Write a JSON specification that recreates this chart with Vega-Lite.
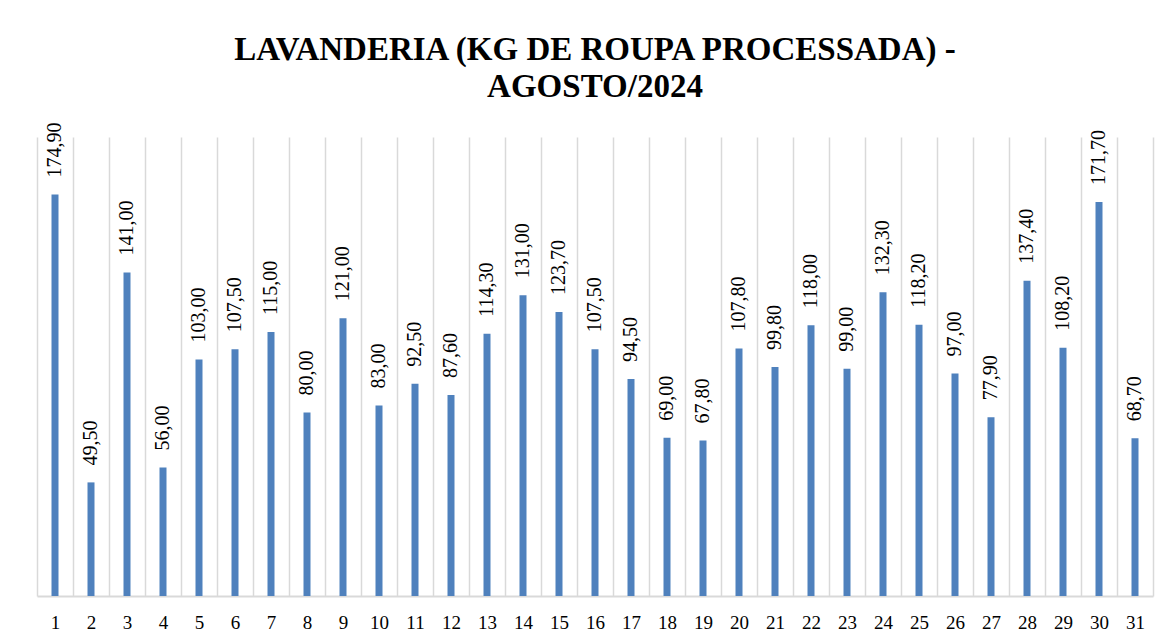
{
  "$schema": "https://vega.github.io/schema/vega-lite/v6.json",
  "width": 1116,
  "height": 459,
  "autosize": {"type": "none"},
  "padding": {"left": 37, "top": 137, "right": 18, "bottom": 46},
  "background": "white",
  "config": {
    "view": {"stroke": null},
    "locale": {"number": {"decimal": ",", "thousands": ".", "grouping": [3], "currency": ["R$", ""]}}
  },
  "title": {
    "text": ["LAVANDERIA (KG DE ROUPA PROCESSADA) -", "AGOSTO/2024"],
    "font": "Times New Roman, Liberation Serif, DejaVu Serif, serif",
    "fontSize": 33,
    "fontWeight": "bold",
    "color": "#000000",
    "lineHeight": 37,
    "anchor": "middle",
    "frame": "group",
    "offset": 19
  },
  "data": {
    "values": [
      {"dia": 1, "kg": 174.9}, {"dia": 2, "kg": 49.5}, {"dia": 3, "kg": 141.0}, {"dia": 4, "kg": 56.0},
      {"dia": 5, "kg": 103.0}, {"dia": 6, "kg": 107.5}, {"dia": 7, "kg": 115.0}, {"dia": 8, "kg": 80.0},
      {"dia": 9, "kg": 121.0}, {"dia": 10, "kg": 83.0}, {"dia": 11, "kg": 92.5}, {"dia": 12, "kg": 87.6},
      {"dia": 13, "kg": 114.3}, {"dia": 14, "kg": 131.0}, {"dia": 15, "kg": 123.7}, {"dia": 16, "kg": 107.5},
      {"dia": 17, "kg": 94.5}, {"dia": 18, "kg": 69.0}, {"dia": 19, "kg": 67.8}, {"dia": 20, "kg": 107.8},
      {"dia": 21, "kg": 99.8}, {"dia": 22, "kg": 118.0}, {"dia": 23, "kg": 99.0}, {"dia": 24, "kg": 132.3},
      {"dia": 25, "kg": 118.2}, {"dia": 26, "kg": 97.0}, {"dia": 27, "kg": 77.9}, {"dia": 28, "kg": 137.4},
      {"dia": 29, "kg": 108.2}, {"dia": 30, "kg": 171.7}, {"dia": 31, "kg": 68.7}
    ]
  },
  "encoding": {
    "x": {
      "field": "dia",
      "type": "ordinal",
      "sort": null,
      "scale": {"paddingInner": 0, "paddingOuter": 0},
      "axis": {
        "title": null,
        "labelAngle": 0,
        "labelFont": "Times New Roman, Liberation Serif, DejaVu Serif, serif",
        "labelFontSize": 19,
        "labelColor": "#000000",
        "labelPadding": 17,
        "ticks": false,
        "tickBand": "extent",
        "grid": true,
        "gridColor": "#d9d9d9",
        "gridWidth": 1.5,
        "domainColor": "#d9d9d9",
        "domainWidth": 2
      }
    },
    "y": {
      "field": "kg",
      "type": "quantitative",
      "scale": {"domain": [0, 200], "nice": false},
      "axis": null
    }
  },
  "layer": [
    {"mark": {"type": "bar", "size": 7, "color": "#4F81BD"}},
    {
      "mark": {
        "type": "text",
        "angle": 270,
        "align": "left",
        "baseline": "middle",
        "dx": 17,
        "font": "Times New Roman, Liberation Serif, DejaVu Serif, serif",
        "fontSize": 20,
        "color": "#000000"
      },
      "encoding": {"text": {"field": "kg", "type": "quantitative", "format": ".2f"}}
    }
  ]
}
